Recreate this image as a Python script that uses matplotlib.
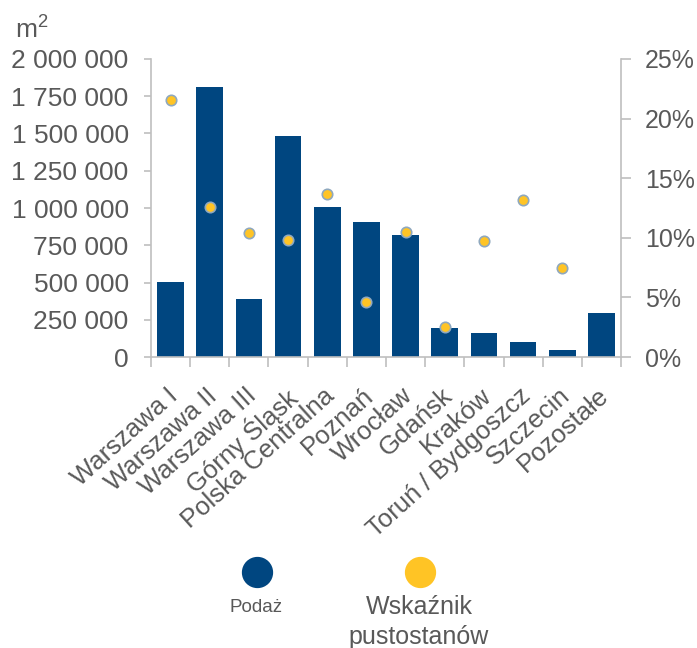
import matplotlib
matplotlib.use("Agg")
import matplotlib.pyplot as plt
from matplotlib.lines import Line2D
from matplotlib.transforms import ScaledTranslation
from matplotlib.ticker import FuncFormatter, MultipleLocator

plt.rcParams['font.family'] = ['Liberation Sans', 'DejaVu Sans']
plt.rcParams['mathtext.default'] = 'regular'

regions = ["Warszawa I", "Warszawa II", "Warszawa III", "Górny Śląsk",
           "Polska Centralna", "Poznań", "Wrocław", "Gdańsk", "Kraków",
           "Toruń / Bydgoszcz", "Szczecin", "Pozostałe"]
supply_m2 = [505000, 1812000, 387000, 1483000, 1005000, 908000, 819000,
             197000, 159000, 99000, 45000, 293000]
vacancy_pct = [21.6, 12.6, 10.4, 9.8, 13.7, 4.6, 10.5, 2.5, 9.7, 13.2, 7.5, None]

BLUE = "#004680"
YELLOW = "#FFC425"
EDGE = "#8FA8BE"
GREY_TXT = "#595959"
AXIS = "#BFBFBF"

fig = plt.figure(figsize=(6.97, 6.48), dpi=100)
ax = fig.add_axes([0.2166, 0.449, 0.891 - 0.2166, 0.909 - 0.449])

x = list(range(len(regions)))
ax.bar(x, supply_m2, width=0.68, color=BLUE, zorder=2)
ax.set_xlim(-0.5, len(regions) - 0.5)
ax.set_ylim(0, 2000000)
ax.yaxis.set_major_locator(MultipleLocator(250000))
ax.yaxis.set_major_formatter(FuncFormatter(lambda v, p: f"{int(v):,}".replace(",", " ")))

ax2 = ax.twinx()
vx = [i for i, v in zip(x, vacancy_pct) if v is not None]
vy = [v for v in vacancy_pct if v is not None]
ax2.plot(vx, vy, linestyle="none", marker="o", markersize=7.5,
         markerfacecolor=YELLOW, markeredgecolor=EDGE, markeredgewidth=1.2, zorder=3)
ax2.set_ylim(0, 25)
ax2.yaxis.set_major_locator(MultipleLocator(5))
ax2.yaxis.set_major_formatter(FuncFormatter(lambda v, p: f"{int(v)}%"))

for a in (ax, ax2):
    for s in a.spines.values():
        s.set_color(AXIS)
        s.set_linewidth(1.2)
    a.spines["top"].set_visible(False)
ax.spines["right"].set_visible(False)
ax2.spines["left"].set_visible(False)
ax2.spines["bottom"].set_visible(False)

ax.tick_params(axis="y", length=5, width=1.2, color=AXIS, labelsize=19,
               labelcolor=GREY_TXT, pad=11)
ax2.tick_params(axis="y", length=7, width=1.2, color=AXIS, labelsize=18,
                labelcolor=GREY_TXT, pad=10)

# x ticks sit at category boundaries, labels at category centres
ax.set_xticks([i - 0.5 for i in range(len(regions) + 1)])
ax.set_xticklabels([])
ax.tick_params(axis="x", which="major", length=7, width=1.2, color=AXIS)
ax.set_xticks(x, minor=True)
ax.set_xticklabels(regions, minor=True, rotation=42, ha="right",
                   va="top", rotation_mode="anchor", fontsize=18.5,
                   color=GREY_TXT)
ax.tick_params(axis="x", which="minor", length=0, pad=19)
shift = ScaledTranslation(-4 / 100, 0, fig.dpi_scale_trans)
for lbl in ax.get_xticklabels(minor=True):
    lbl.set_transform(lbl.get_transform() + shift)

fig.text(0.021, 0.953, "m$^{2}$", fontsize=19, color=GREY_TXT, ha="left", va="center")

# legend: marker above its label
fig.add_artist(Line2D([257 / 697], [1 - 572 / 648], marker="o", markersize=21.5,
                      color=BLUE, linestyle="none", transform=fig.transFigure))
fig.text(256 / 697, 1 - 607 / 648, "Podaż", fontsize=13.5, color=GREY_TXT,
         ha="center", va="center")
fig.add_artist(Line2D([420 / 697], [1 - 572 / 648], marker="o", markersize=21.5,
                      color=YELLOW, linestyle="none", transform=fig.transFigure))
fig.text(419 / 697, 1 - 622 / 648, "Wskaźnik\npustostanów", fontsize=18,
         color=GREY_TXT, ha="center", va="center", linespacing=1.3)

fig.savefig("out.png", dpi=100)
